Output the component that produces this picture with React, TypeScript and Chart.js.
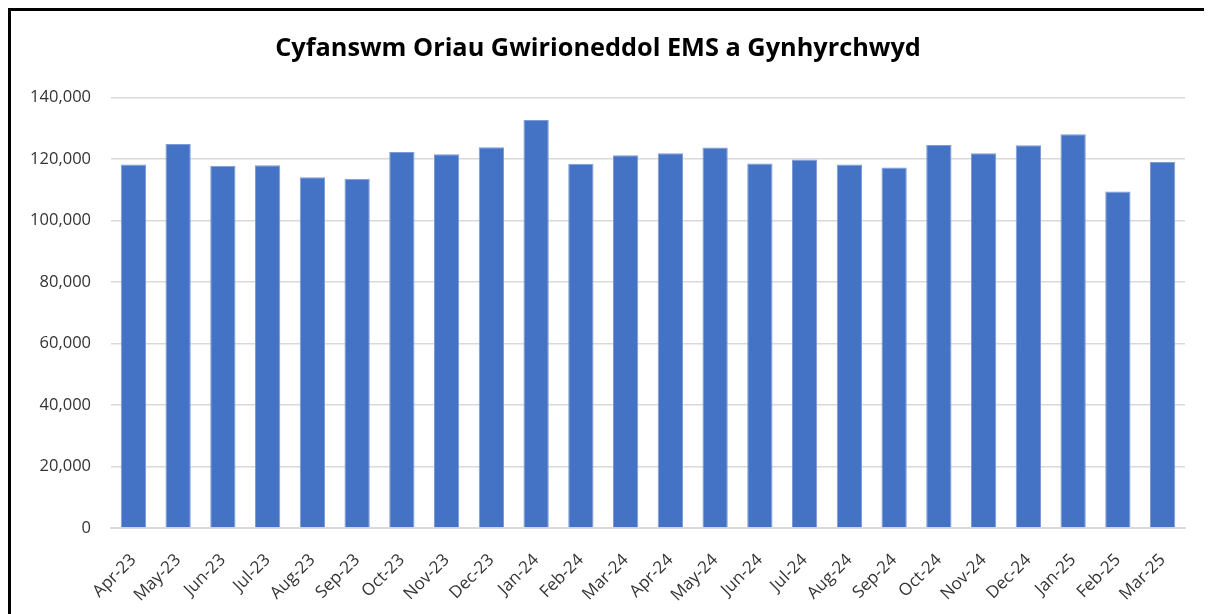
import React, { useEffect, useRef } from "react";
import { Chart, registerables } from "chart.js";

Chart.register(...registerables);

const titleText = "Cyfanswm Oriau Gwirioneddol EMS a Gynhyrchwyd";

const months = [
  "Apr-23", "May-23", "Jun-23", "Jul-23", "Aug-23", "Sep-23", "Oct-23", "Nov-23",
  "Dec-23", "Jan-24", "Feb-24", "Mar-24", "Apr-24", "May-24", "Jun-24", "Jul-24",
  "Aug-24", "Sep-24", "Oct-24", "Nov-24", "Dec-24", "Jan-25", "Feb-25", "Mar-25",
];

const hours = [
  118200, 124800, 117800, 117900, 114000, 113500, 122200, 121500,
  123800, 132600, 118400, 121200, 121800, 123700, 118500, 119800,
  118200, 117200, 124500, 121800, 124400, 128000, 109400, 119000,
];

const yTicks = [0, 20000, 40000, 60000, 80000, 100000, 120000, 140000];

export default function App() {
  const ref = useRef<HTMLCanvasElement | null>(null);

  useEffect(() => {
    document.body.style.overflow = "hidden";
    if (!ref.current) return;
    const chart = new Chart(ref.current, {
      type: "bar",
      data: {
        labels: months,
        datasets: [
          {
            data: hours,
            backgroundColor: "#4472C4",
            borderColor: "#7e9bd6",
            borderWidth: { top: 1, left: 1, right: 1, bottom: 0 },
            barPercentage: 0.565,
            categoryPercentage: 1,
          },
        ],
      },
      options: {
        responsive: false,
        animation: false,
        maintainAspectRatio: false,
        layout: { padding: { left: 0, right: 27, top: 0, bottom: 0 } },
        plugins: {
          legend: { display: false },
          tooltip: { enabled: false },
          title: {
            display: true,
            text: titleText,
            color: "#000000",
            font: { family: "'Open Sans', sans-serif", size: 25.3, weight: "bold" },
            padding: { top: 23, bottom: 33 },
          },
        },
        scales: {
          x: {
            grid: { display: false, drawTicks: false },
            border: { display: true, color: "#d9d9d9", width: 2 },
            ticks: {
              color: "#333333",
              font: { family: "'Open Sans', sans-serif", size: 17 },
              minRotation: 45,
              maxRotation: 45,
              padding: 22,
              autoSkip: false,
            },
            afterFit: (s: any) => {
              s.height = 86;
            },
          },
          y: {
            min: 0,
            max: 140000,
            afterBuildTicks: (s: any) => {
              s.ticks = yTicks.map((v) => ({ value: v }));
            },
            grid: { color: "#d9d9d9", lineWidth: 1.5, drawTicks: false },
            border: { display: false },
            ticks: {
              color: "#333333",
              font: { family: "'Open Sans', sans-serif", size: 16.5 },
              padding: 20,
              callback: (v: any) => Number(v).toLocaleString("en-US"),
            },
            afterFit: (s: any) => {
              s.width = 100;
            },
          },
        },
      },
    });
    return () => chart.destroy();
  }, []);

  return (
    <div
      style={{
        width: 1204,
        height: 606,
        borderTop: "3px solid #000",
        borderLeft: "3px solid #000",
        background: "#fff",
      }}
    >
      <canvas ref={ref} width={1201} height={603} style={{ display: "block" }} />
    </div>
  );
}
